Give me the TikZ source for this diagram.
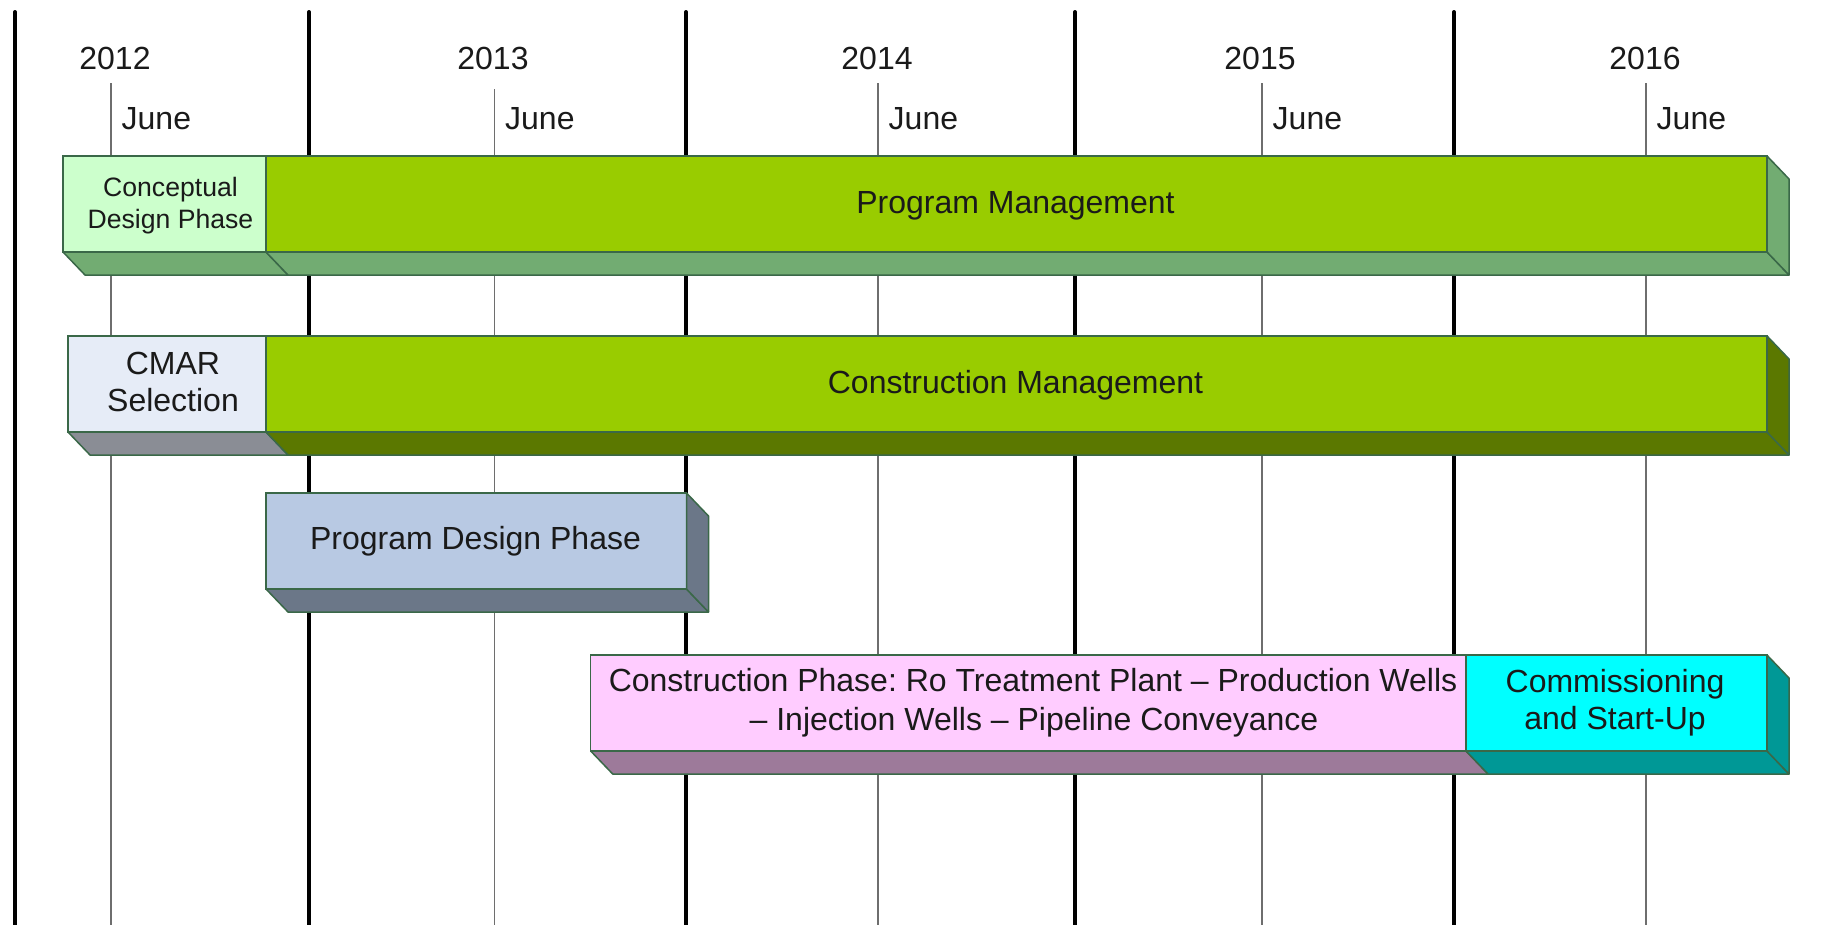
\documentclass[tikz,border=0pt]{standalone}
\usepackage{fontspec}
\setmainfont{Liberation Sans}
\frenchspacing
\definecolor{txtc}{HTML}{1A1A1A}
\definecolor{edge}{HTML}{3A6848}
\definecolor{greenfront}{HTML}{99CC00}
\definecolor{sagegreen}{HTML}{72AC72}
\definecolor{olive}{HTML}{5B7800}
\definecolor{conceptfront}{HTML}{CCFFCC}
\definecolor{cmarfront}{HTML}{E6ECF7}
\definecolor{cmarside}{HTML}{8A8D95}
\definecolor{pdpfront}{HTML}{B8C9E3}
\definecolor{pdpside}{HTML}{6B7788}
\definecolor{pinkfront}{HTML}{FFCCFF}
\definecolor{pinkside}{HTML}{9D7A9A}
\definecolor{cyanfront}{HTML}{00FFFF}
\definecolor{cyanside}{HTML}{009896}
\definecolor{junegray}{HTML}{6E6E6E}
\newcommand\bface[2]{\filldraw[face, fill=#2] (#1.south west) -- (#1.south east) -- ([shift={(22,23)}]#1.south east) -- ([shift={(22,23)}]#1.south west) -- cycle;}
\newcommand\rface[2]{\filldraw[face, fill=#2] (#1.north east) -- ([shift={(22,23)}]#1.north east) -- ([shift={(22,23)}]#1.south east) -- (#1.south east) -- cycle;}
\begin{document}
\begin{tikzpicture}[x=1pt,y=-1pt,
  yearline/.style={line width=4pt, black, line cap=round},
  juneline/.style={line width=1.8pt, junegray},
  bar/.style={draw=edge, line width=1.5pt, rectangle, inner sep=0pt, outer sep=0pt, minimum height=96pt},
  face/.style={draw=edge, line width=1.5pt, line join=round},
  lbl/.style={text=txtc, inner sep=0pt, font=\fontsize{32}{38}\selectfont},
  small/.style={text=txtc, inner sep=0pt, font=\fontsize{26.6}{32}\selectfont}
]
\useasboundingbox (0,0) rectangle (1839,924);
\fill[white] (0,0) rectangle (1839,924);

% year lines
\foreach \x in {15,309,686,1075,1454} \draw[yearline] (\x,12) -- (\x,930);
% june lines
\draw[juneline] (111,83) -- (111,930);
\draw[juneline] (494.5,89) -- (494.5,930);
\draw[juneline] (878,83) -- (878,930);
\draw[juneline] (1262,83) -- (1262,930);
\draw[juneline] (1646,83) -- (1646,930);

% year labels
\node[lbl, anchor=base] (y2012) at (115,69.5) {2012};
\node[lbl, anchor=base] (y2013) at (493,69.5) {2013};
\node[lbl, anchor=base] (y2014) at (877,69.5) {2014};
\node[lbl, anchor=base] (y2015) at (1260,69.5) {2015};
\node[lbl, anchor=base] (y2016) at (1645,69.5) {2016};
% june labels
\node[lbl, anchor=base west] (j2012) at (121.5,129.5) {June};
\node[lbl, anchor=base west] (j2013) at (505,129.5) {June};
\node[lbl, anchor=base west] (j2014) at (888.5,129.5) {June};
\node[lbl, anchor=base west] (j2015) at (1272.5,129.5) {June};
\node[lbl, anchor=base west] (j2016) at (1656.5,129.5) {June};

% row 1
\node[bar, fill=conceptfront, minimum width=203pt] (concept) at (164.5,204) {};
\node[bar, fill=greenfront, minimum width=1501pt] (pm) at (1016.5,204) {};
\bface{concept}{sagegreen}
\bface{pm}{sagegreen}
\rface{pm}{sagegreen}
\node[small, anchor=base] (concept1) at (170.5,196) {Conceptual};
\node[small, anchor=base] (concept2) at (170.5,228) {Design Phase};
\node[lbl, anchor=base] (pmt) at (1015.5,213) {Program Management};

% row 2
\node[bar, fill=cmarfront, minimum width=198pt] (cmar) at (167,384) {};
\node[bar, fill=greenfront, minimum width=1501pt] (cm) at (1016.5,384) {};
\bface{cmar}{cmarside}
\bface{cm}{olive}
\rface{cm}{olive}
\node[lbl, anchor=base] (cmar1) at (173,374) {CMAR};
\node[lbl, anchor=base] (cmar2) at (173,411.5) {Selection};
\node[lbl, anchor=base] (cmt) at (1015.5,393.3) {Construction Management};

% row 3
\node[bar, fill=pdpfront, minimum width=420.5pt] (pdp) at (476.25,541) {};
\bface{pdp}{pdpside}
\rface{pdp}{pdpside}
\node[lbl, anchor=base] (pdpt) at (475.5,549.3) {Program Design Phase};

% row 4
\node[bar, fill=pinkfront, minimum width=875.3pt] (cp) at (1028.35,703) {};
\node[bar, fill=cyanfront, minimum width=301pt] (comm) at (1616.5,703) {};
\bface{cp}{pinkside}
\bface{comm}{cyanside}
\rface{comm}{cyanside}
\node[lbl, anchor=base] (cp1) at (1033,691.7) {Construction Phase: Ro Treatment Plant -- Production Wells};
\node[lbl, anchor=base] (cp2) at (1034,730) {-- Injection Wells -- Pipeline Conveyance};
\node[lbl, anchor=base] (comm1) at (1615,692.3) {Commissioning};
\node[lbl, anchor=base] (comm2) at (1615,729.3) {and Start-Up};
\end{tikzpicture}
\end{document}
